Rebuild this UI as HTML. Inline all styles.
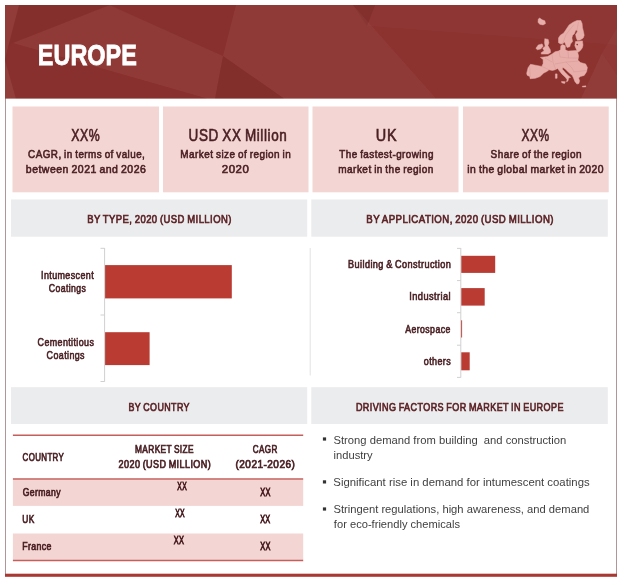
<!DOCTYPE html>
<html lang="en"><head><meta charset="utf-8"><title>Europe</title>
<style>
html,body{margin:0;padding:0;background:#fff;}
svg{display:block;font-family:"Liberation Sans", Arial, sans-serif;}
text{white-space:pre;}
</style></head>
<body>
<svg width="626" height="585" viewBox="0 0 626 585">
<rect x="5.5" y="5.5" width="611" height="570" fill="#ffffff" stroke="#b39497" stroke-width="1"/>
<rect x="5" y="573.7" width="612" height="3.1" fill="#a93832" />
<rect x="5" y="5" width="612" height="93.6" fill="#8c322f" />
<g>
<polygon points="236,5 353,5 436,98.5 284,98.5 223,56" fill="#ffffff" fill-opacity="0.045"/>
<polygon points="223,56 284,98.5 215,98.5" fill="#000000" fill-opacity="0.07"/>
<polygon points="108,5 236,5 223,56" fill="#000000" fill-opacity="0.035"/>
<polygon points="13,43 110,5 223,56 215,98.5 207,98.5" fill="#ffffff" fill-opacity="0.04"/>
<polygon points="5,5 19,5 5,59" fill="#ffffff" fill-opacity="0.05"/>
<polygon points="353,5 375,5 367,26" fill="#000000" fill-opacity="0.06"/>
<polygon points="375,5 617,5 617,45 367,26" fill="#ffffff" fill-opacity="0.02"/>
<polygon points="602,53 617,75 617,98.6 581,98.6" fill="#ffffff" fill-opacity="0.05"/>
<polygon points="602,53 617,28 617,75" fill="#ffffff" fill-opacity="0.03"/>
<polygon points="19,5 110,5 13,43 8,47" fill="#000000" fill-opacity="0.045"/>
<polygon points="5,60 8,47 13,43 207,98.6 16,98.6" fill="#000000" fill-opacity="0.03"/>
<polygon points="5,60 16,98.7 5,98.7" fill="#ffffff" fill-opacity="0.06"/>
</g>

<g fill="#e7aeaa" stroke="#e7aeaa" stroke-width="0.5" stroke-linejoin="round">
<polygon points="540.4,57.4 547.6,56.5 552.4,53.8 555.1,51.7 558.4,51.1 560.5,49.8 560.8,45.7 562.5,44.6 565.3,45.7 565.3,49.8 568,51.1 572.1,50.8 576.9,50.5 574.8,45.7 575.5,41.6 582.4,40.9 583,45 582.4,47.7 581,49.8 578.9,51.8 577.6,52 578.6,56.1 577.9,60.2 580.6,62.6 585.6,63.9 587.4,67.5 586.6,71.8 584.2,75.4 580.3,76.6 578.6,78 579.6,80.7 578.9,83.5 576.9,84.1 574.8,81.4 573.5,78 572.1,75.2 568.7,72.5 565.3,69.1 562.9,67.4 562.2,69.1 565.3,72.5 568.7,75.9 570.7,77.3 568.7,78 568,80.7 566.6,82.1 567,79.4 565.3,77.3 561.8,73.9 559.1,70.5 557.7,68.4 555.1,69.8 552.4,70.5 548.9,69.8 547.6,71.1 543.5,73.2 540,76.6 535.3,78.3 530.1,78.7 529.8,76.6 527.1,75.2 526.7,73.2 528.1,67.7 530.5,64.3 541.8,66.4 543.1,63.6 543.1,59.5"/>
<polygon points="577.0,20.5 580.8,20.5 582.1,23.6 582.5,27.7 583.5,31.8 584.2,35.2 583.2,37.9 580.1,40 577.4,40.3 576.3,37.9 575.6,34.5 577.4,31.8 577,30.1 575.6,30.4 574.3,33.8 572.6,35.2 571.9,37.9 572.6,41.4 570.5,44.1 569.8,46.8 567.1,47.5 565.7,44.8 564.7,42 563,43.4 560.9,44.1 558.5,42.7 558.5,37.9 560.3,35.2 563.7,33.1 566.4,29 569.1,24.9 573.2,22.2"/>
<polygon points="544.8,38.7 548.2,39.4 548.9,42.8 547.9,45.6 550.3,49.7 550.6,52.4 548.2,54.1 541.4,54.1 541.1,52.8 544.1,50.7 542.8,48.3 545.2,46.3 544.5,42.8"/>
<polygon points="535.9,48.3 538.3,44.9 542.1,43.9 543.1,46.3 540.7,49 537.3,49.7"/>
<polygon points="538.3,19.1 539.7,18.1 542.1,19.8 544.8,20.8 545.5,23.6 543.1,24.9 539.7,24.3 538,22.2"/>
<polygon points="555.4,73.9 557.1,73.9 557.1,78.3 555.4,78.3"/>
<polygon points="561.5,81.4 565.3,81.7 564.6,83.5 561.8,82.8"/>
<polygon points="582.4,86.2 585.8,85.8 585.8,86.9 582.4,87"/>
</g>
<g fill="none" stroke="#d3908c" stroke-width="0.45" stroke-opacity="0.8">
<polyline points="541.8,66.4 548.9,69.8"/>
<polyline points="529.6,66 530.2,77"/>
<polyline points="552,54.2 553,62 555.5,69"/>
<polyline points="568,51.2 568.6,58 578.2,58"/>
<polyline points="563,43 566,34.5 574,24.5"/>
<polyline points="577,30 578.5,22"/>
<polyline points="555,64 566,62 578,61.2"/>
<polyline points="573.5,72 586,70.5"/>
<polyline points="559,51 560,57 568.6,58"/>
<polyline points="566,62 572,68 574,72"/>
<polyline points="545,58 552,62"/>
</g>
<circle cx="577.2" cy="44.6" r="0.8" fill="#8c322f"/>
<text x="37.85" y="65.3" font-size="29.6" font-weight="bold" fill="#ffffff" stroke="#ffffff" stroke-width="0.8" word-spacing="-2.07" textLength="98.95" lengthAdjust="spacingAndGlyphs">EUROPE</text>
<rect x="12.5" y="106.5" width="146.5" height="85.8" fill="#f3d5d3" />
<rect x="163" y="106.5" width="145.5" height="85.8" fill="#f3d5d3" />
<rect x="312.5" y="106.5" width="146.0" height="85.8" fill="#f3d5d3" />
<rect x="463" y="106.5" width="145.7" height="85.8" fill="#f3d5d3" />
<text x="71.24" y="141" font-size="16.2" font-weight="normal" fill="#4a2024" stroke="#4a2024" stroke-width="0.6" word-spacing="-1.13" letter-spacing="0.73" textLength="29.07" lengthAdjust="spacingAndGlyphs">XX%</text>
<text x="28.1" y="158.0" font-size="11.5" font-weight="normal" fill="#4a2024" stroke="#4a2024" stroke-width="0.6" word-spacing="-0.81" letter-spacing="0.52" textLength="117.22" lengthAdjust="spacingAndGlyphs">CAGR, in terms of value,</text>
<text x="25.84" y="173.4" font-size="11.5" font-weight="normal" fill="#4a2024" stroke="#4a2024" stroke-width="0.6" word-spacing="-0.81" letter-spacing="0.52" textLength="120.46" lengthAdjust="spacingAndGlyphs">between 2021 and 2026</text>
<text x="188.59" y="141" font-size="16.2" font-weight="normal" fill="#4a2024" stroke="#4a2024" stroke-width="0.6" word-spacing="-1.13" letter-spacing="0.73" textLength="98.82" lengthAdjust="spacingAndGlyphs">USD XX Million</text>
<text x="180.36" y="158.0" font-size="11.5" font-weight="normal" fill="#4a2024" stroke="#4a2024" stroke-width="0.6" word-spacing="-0.81" letter-spacing="0.52" textLength="110.8" lengthAdjust="spacingAndGlyphs">Market size of region in</text>
<text x="221.77" y="173.4" font-size="11.5" font-weight="normal" fill="#4a2024" stroke="#4a2024" stroke-width="0.6" word-spacing="-0.81" letter-spacing="0.52" textLength="27.55" lengthAdjust="spacingAndGlyphs">2020</text>
<text x="375.82" y="141" font-size="16.2" font-weight="normal" fill="#4a2024" stroke="#4a2024" stroke-width="0.6" word-spacing="-1.13" letter-spacing="0.73" textLength="21.34" lengthAdjust="spacingAndGlyphs">UK</text>
<text x="339.3" y="158.0" font-size="11.5" font-weight="normal" fill="#4a2024" stroke="#4a2024" stroke-width="0.6" word-spacing="-0.81" letter-spacing="0.52" textLength="94.59" lengthAdjust="spacingAndGlyphs">The fastest-growing</text>
<text x="338.3" y="173.4" font-size="11.5" font-weight="normal" fill="#4a2024" stroke="#4a2024" stroke-width="0.6" word-spacing="-0.81" letter-spacing="0.52" textLength="95.43" lengthAdjust="spacingAndGlyphs">market in the region</text>
<text x="521.42" y="141" font-size="16.2" font-weight="normal" fill="#4a2024" stroke="#4a2024" stroke-width="0.6" word-spacing="-1.13" letter-spacing="0.73" textLength="28.27" lengthAdjust="spacingAndGlyphs">XX%</text>
<text x="490.52" y="158.0" font-size="11.5" font-weight="normal" fill="#4a2024" stroke="#4a2024" stroke-width="0.6" word-spacing="-0.81" letter-spacing="0.52" textLength="91.41" lengthAdjust="spacingAndGlyphs">Share of the region</text>
<text x="467.31" y="173.4" font-size="11.5" font-weight="normal" fill="#4a2024" stroke="#4a2024" stroke-width="0.6" word-spacing="-0.81" letter-spacing="0.52" textLength="136.77" lengthAdjust="spacingAndGlyphs">in the global market in 2020</text>
<rect x="11" y="199.5" width="296.2" height="37.2" fill="#ebeced" />
<rect x="311.3" y="199.5" width="296.5" height="37.2" fill="#ebeced" />
<rect x="11" y="387.2" width="296.2" height="36.8" fill="#ebeced" />
<rect x="311.3" y="387.2" width="296.5" height="36.8" fill="#ebeced" />
<text x="87.2" y="222.8" font-size="11.5" font-weight="normal" fill="#5c2226" stroke="#5c2226" stroke-width="0.7" word-spacing="-0.81" letter-spacing="0.52" textLength="144.64" lengthAdjust="spacingAndGlyphs">BY TYPE, 2020 (USD MILLION)</text>
<text x="366.33" y="222.8" font-size="11.5" font-weight="normal" fill="#5c2226" stroke="#5c2226" stroke-width="0.7" word-spacing="-0.81" letter-spacing="0.52" textLength="187.67" lengthAdjust="spacingAndGlyphs">BY APPLICATION, 2020 (USD MILLION)</text>
<text x="128.51" y="410.6" font-size="11.5" font-weight="normal" fill="#5c2226" stroke="#5c2226" stroke-width="0.7" word-spacing="-0.81" letter-spacing="0.52" textLength="61.39" lengthAdjust="spacingAndGlyphs">BY COUNTRY</text>
<text x="355.88" y="410.7" font-size="11.5" font-weight="normal" fill="#5c2226" stroke="#5c2226" stroke-width="0.7" word-spacing="-0.81" letter-spacing="0.52" textLength="207.98" lengthAdjust="spacingAndGlyphs">DRIVING FACTORS FOR MARKET IN EUROPE</text>
<line x1="310.2" y1="248" x2="310.2" y2="375.5" stroke="#e3e3e3" stroke-width="1"/>
<line x1="104.6" y1="248" x2="104.6" y2="381.7" stroke="#d0d0d0" stroke-width="1"/>
<line x1="100.5" y1="248.3" x2="104.6" y2="248.3" stroke="#d0d0d0" stroke-width="1"/>
<line x1="100.5" y1="315" x2="104.6" y2="315" stroke="#d0d0d0" stroke-width="1"/>
<line x1="100.5" y1="381.5" x2="104.6" y2="381.5" stroke="#d0d0d0" stroke-width="1"/>
<rect x="105.1" y="265.1" width="126.7" height="33.3" fill="#b93b32" />
<rect x="105.1" y="332.2" width="44.5" height="32.9" fill="#b93b32" />
<text x="41.01" y="278.8" font-size="10.4" font-weight="normal" fill="#4a2024" stroke="#4a2024" stroke-width="0.6" word-spacing="-0.73" letter-spacing="0.47" textLength="53.04" lengthAdjust="spacingAndGlyphs">Intumescent</text>
<text x="48.73" y="291.6" font-size="10.4" font-weight="normal" fill="#4a2024" stroke="#4a2024" stroke-width="0.6" word-spacing="-0.73" letter-spacing="0.47" textLength="37.53" lengthAdjust="spacingAndGlyphs">Coatings</text>
<text x="37.57" y="346.1" font-size="10.4" font-weight="normal" fill="#4a2024" stroke="#4a2024" stroke-width="0.6" word-spacing="-0.73" letter-spacing="0.47" textLength="56.74" lengthAdjust="spacingAndGlyphs">Cementitious</text>
<text x="46.62" y="358.7" font-size="10.4" font-weight="normal" fill="#4a2024" stroke="#4a2024" stroke-width="0.6" word-spacing="-0.73" letter-spacing="0.47" textLength="38.35" lengthAdjust="spacingAndGlyphs">Coatings</text>
<line x1="460.8" y1="248" x2="460.8" y2="377.6" stroke="#d0d0d0" stroke-width="1"/>
<line x1="457" y1="248.4" x2="460.8" y2="248.4" stroke="#d0d0d0" stroke-width="1"/>
<line x1="457" y1="280.6" x2="460.8" y2="280.6" stroke="#d0d0d0" stroke-width="1"/>
<line x1="457" y1="312.7" x2="460.8" y2="312.7" stroke="#d0d0d0" stroke-width="1"/>
<line x1="457" y1="345.2" x2="460.8" y2="345.2" stroke="#d0d0d0" stroke-width="1"/>
<line x1="457" y1="377.4" x2="460.8" y2="377.4" stroke="#d0d0d0" stroke-width="1"/>
<rect x="461.3" y="255.8" width="33.9" height="17.1" fill="#b93b32" />
<rect x="461.3" y="288.1" width="23.4" height="17.5" fill="#b93b32" />
<rect x="461.2" y="320.3" width="0.9" height="17.2" fill="#b93b32" />
<rect x="461.3" y="352.3" width="8.4" height="18" fill="#b93b32" />
<text x="348.05" y="268.2" font-size="10.4" font-weight="normal" fill="#4a2024" stroke="#4a2024" stroke-width="0.6" word-spacing="-0.73" letter-spacing="0.47" textLength="103.2" lengthAdjust="spacingAndGlyphs">Building &amp; Construction</text>
<text x="409.28" y="300.2" font-size="10.4" font-weight="normal" fill="#4a2024" stroke="#4a2024" stroke-width="0.6" word-spacing="-0.73" letter-spacing="0.47" textLength="41.72" lengthAdjust="spacingAndGlyphs">Industrial</text>
<text x="405.29" y="332.9" font-size="10.4" font-weight="normal" fill="#4a2024" stroke="#4a2024" stroke-width="0.6" word-spacing="-0.73" letter-spacing="0.47" textLength="45.4" lengthAdjust="spacingAndGlyphs">Aerospace</text>
<text x="423.79" y="364.7" font-size="10.4" font-weight="normal" fill="#4a2024" stroke="#4a2024" stroke-width="0.6" word-spacing="-0.73" letter-spacing="0.47" textLength="27.37" lengthAdjust="spacingAndGlyphs">others</text>
<rect x="12.9" y="479.6" width="290.3" height="26.3" fill="#f3d5d3" />
<rect x="12.9" y="533.5" width="290.3" height="26.6" fill="#f3d5d3" />
<line x1="12.9" y1="435.3" x2="303.2" y2="435.3" stroke="#c55f5b" stroke-width="1.4"/>
<line x1="12.9" y1="479" x2="303.2" y2="479" stroke="#c55f5b" stroke-width="1.4"/>
<line x1="12.9" y1="560.5" x2="303.2" y2="560.5" stroke="#c55f5b" stroke-width="1.4"/>
<text x="22.59" y="460.9" font-size="10.4" font-weight="normal" fill="#4a2024" stroke="#4a2024" stroke-width="0.7" word-spacing="-0.73" letter-spacing="0.47" textLength="41.63" lengthAdjust="spacingAndGlyphs">COUNTRY</text>
<text x="135.02" y="453.3" font-size="10.4" font-weight="normal" fill="#4a2024" stroke="#4a2024" stroke-width="0.7" word-spacing="-0.73" letter-spacing="0.47" textLength="58.9" lengthAdjust="spacingAndGlyphs">MARKET SIZE</text>
<text x="118.6" y="467.7" font-size="10.4" font-weight="normal" fill="#4a2024" stroke="#4a2024" stroke-width="0.7" word-spacing="-0.73" letter-spacing="0.47" textLength="92.53" lengthAdjust="spacingAndGlyphs">2020 (USD MILLION)</text>
<text x="252.8" y="453.3" font-size="10.4" font-weight="normal" fill="#4a2024" stroke="#4a2024" stroke-width="0.7" word-spacing="-0.73" letter-spacing="0.47" textLength="24.85" lengthAdjust="spacingAndGlyphs">CAGR</text>
<text x="235.51" y="467.7" font-size="10.4" font-weight="normal" fill="#4a2024" stroke="#4a2024" stroke-width="0.7" word-spacing="-0.73" letter-spacing="0.47" textLength="59.83" lengthAdjust="spacingAndGlyphs">(2021-2026)</text>
<text x="22.65" y="495.9" font-size="10.4" font-weight="normal" fill="#4a2024" stroke="#4a2024" stroke-width="0.7" word-spacing="-0.73" letter-spacing="0.47" textLength="38.21" lengthAdjust="spacingAndGlyphs">Germany</text>
<text x="22.37" y="523.2" font-size="10.4" font-weight="normal" fill="#4a2024" stroke="#4a2024" stroke-width="0.7" word-spacing="-0.73" letter-spacing="0.47" textLength="12.33" lengthAdjust="spacingAndGlyphs">UK</text>
<text x="22.18" y="550.3" font-size="10.4" font-weight="normal" fill="#4a2024" stroke="#4a2024" stroke-width="0.7" word-spacing="-0.73" letter-spacing="0.47" textLength="29.56" lengthAdjust="spacingAndGlyphs">France</text>
<text x="177.37" y="489.6" font-size="10.4" font-weight="normal" fill="#4a2024" stroke="#4a2024" stroke-width="0.8" word-spacing="-0.73" letter-spacing="0.47" textLength="9.65" lengthAdjust="spacingAndGlyphs">XX</text>
<text x="175.2" y="516.7" font-size="10.4" font-weight="normal" fill="#4a2024" stroke="#4a2024" stroke-width="0.8" word-spacing="-0.73" letter-spacing="0.47" textLength="9.81" lengthAdjust="spacingAndGlyphs">XX</text>
<text x="173.82" y="543.8" font-size="10.4" font-weight="normal" fill="#4a2024" stroke="#4a2024" stroke-width="0.8" word-spacing="-0.73" letter-spacing="0.47" textLength="10.5" lengthAdjust="spacingAndGlyphs">XX</text>
<text x="260.25" y="495.9" font-size="10.4" font-weight="normal" fill="#4a2024" stroke="#4a2024" stroke-width="0.8" word-spacing="-0.73" letter-spacing="0.47" textLength="10.54" lengthAdjust="spacingAndGlyphs">XX</text>
<text x="260.17" y="523.2" font-size="10.4" font-weight="normal" fill="#4a2024" stroke="#4a2024" stroke-width="0.8" word-spacing="-0.73" letter-spacing="0.47" textLength="10.43" lengthAdjust="spacingAndGlyphs">XX</text>
<text x="260.25" y="550.3" font-size="10.4" font-weight="normal" fill="#4a2024" stroke="#4a2024" stroke-width="0.8" word-spacing="-0.73" letter-spacing="0.47" textLength="10.54" lengthAdjust="spacingAndGlyphs">XX</text>
<rect x="322.9" y="437.4" width="3.2" height="3.2" fill="#333" />
<rect x="322.9" y="480.29999999999995" width="3.2" height="3.2" fill="#333" />
<rect x="322.9" y="507.4" width="3.2" height="3.2" fill="#333" />
<text x="333.52" y="443.5" font-size="11.4" font-weight="normal" fill="#3e3e3e" textLength="232.7" lengthAdjust="spacingAndGlyphs">Strong demand from building  and construction</text>
<text x="333.59" y="458.7" font-size="11.4" font-weight="normal" fill="#3e3e3e" textLength="39.07" lengthAdjust="spacingAndGlyphs">industry</text>
<text x="333.36" y="486.3" font-size="11.4" font-weight="normal" fill="#3e3e3e" textLength="256.3" lengthAdjust="spacingAndGlyphs">Significant rise in demand for intumescent coatings</text>
<text x="333.46" y="513.1" font-size="11.4" font-weight="normal" fill="#3e3e3e" textLength="255.9" lengthAdjust="spacingAndGlyphs">Stringent regulations, high awareness, and demand</text>
<text x="333.87" y="528.2" font-size="11.4" font-weight="normal" fill="#3e3e3e" textLength="126.18" lengthAdjust="spacingAndGlyphs">for eco-friendly chemicals</text>
</svg>
</body></html>
